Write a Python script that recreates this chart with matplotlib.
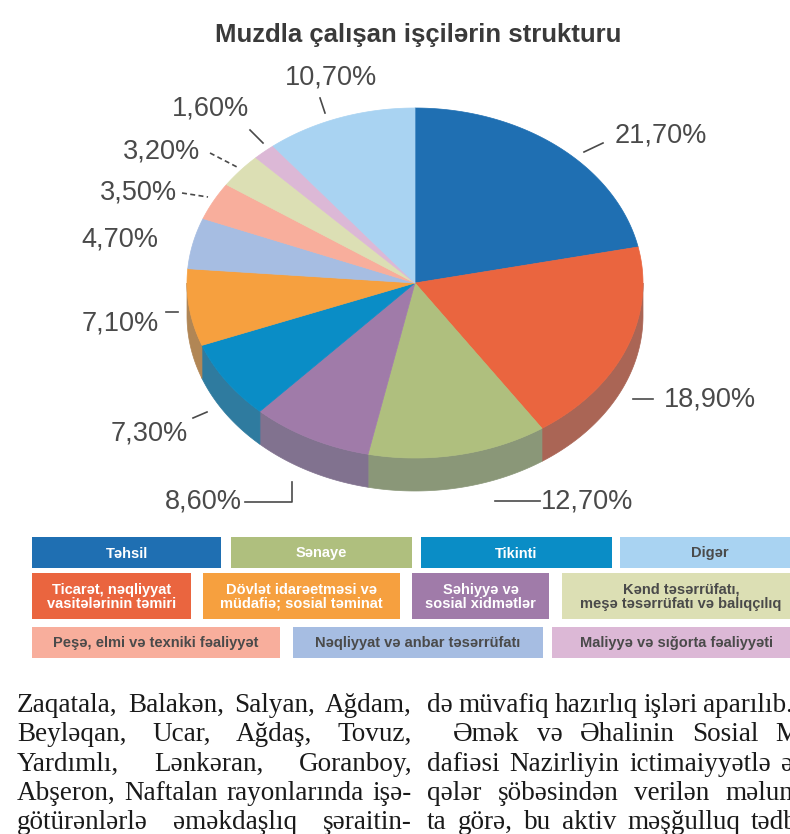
import numpy as np
import matplotlib
matplotlib.use("Agg")
import matplotlib.pyplot as plt
from matplotlib.patches import Polygon, Rectangle
from matplotlib.colors import to_rgb

# ---- data (pie order, clockwise from 12 o'clock) ----
categories = ["Təhsil", "Ticarət, nəqliyyat\nvasitələrinin təmiri", "Sənaye",
              "Səhiyyə və\nsosial xidmətlər", "Tikinti",
              "Dövlət idarəetməsi və\nmüdafiə; sosial təminat",
              "Nəqliyyat və anbar təsərrüfatı", "Peşə, elmi və texniki fəaliyyət",
              "Kənd təsərrüfatı,\nmeşə təsərrüfatı və balıqçılıq",
              "Maliyyə və sığorta fəaliyyəti", "Digər"]
shares = [21.7, 18.9, 12.7, 8.6, 7.3, 7.1, 4.7, 3.5, 3.2, 1.6, 10.7]
colors = ["#1f6fb2", "#ea653f", "#afbf7e", "#a07ba9", "#0a8dc6", "#f6a03f",
          "#a6bde2", "#f8ae9c", "#dcdfb4", "#dcb8d6", "#a9d3f2"]
title = "Muzdla çalışan işçilərin strukturu"

left_col = ["Zaqatala, Balakən, Salyan, Ağdam,",
            "Beyləqan, Ucar, Ağdaş, Tovuz,",
            "Yardımlı, Lənkəran, Goranboy,",
            "Abşeron, Naftalan rayonlarında işə-",
            "götürənlərlə əməkdaşlıq şəraitin-"]
right_col = ["də müvafiq hazırlıq işləri aparılıb.",
             "Əmək və Əhalinin Sosial Mü-",
             "dafiəsi Nazirliyin ictimaiyyətlə əla-",
             "qələr şöbəsindən verilən məluma-",
             "ta görə, bu aktiv məşğulluq tədbiri"]

# ---- layout (pixels) ----
CX, CY, RX, RY, DEPTH = 415, 283, 228, 175, 33
label_pos = [(661, 135), (710, 399), (587, 501), (203, 501), (149, 433),
             (120, 323), (120, 239), (138, 192), (162, 151), (210, 108), (331, 77)]
leaders = [([584, 603], [152, 143], "-"), ([633, 653], [399, 399], "-"),
           ([495, 540], [501, 501], "-"), ([245, 292, 292], [502, 502, 482], "-"),
           ([193, 207], [418, 412], "-"), ([166, 178], [312, 312], "-"),
           None, ([182, 208], [193, 197], "--"), ([210, 237], [153, 167], "--"),
           ([250, 263], [130, 143], "-"), ([320, 325], [98, 113], "-")]
# legend boxes: (category index, x0, y0, x1, y1)
legend_boxes = [(0, 32, 537, 221, 568), (2, 231, 537, 412, 568), (4, 421, 537, 612, 568),
                (10, 620, 537, 800, 568),
                (1, 32, 573, 191, 619), (5, 203, 573, 400, 619), (3, 412, 573, 549, 619),
                (8, 562, 573, 800, 619),
                (7, 32, 627, 280, 658), (6, 293, 627, 543, 658), (9, 552, 627, 800, 658)]
dark_text = {6, 7, 8, 9, 10}


def shade(c):
    rgb = np.array(to_rgb(c))
    return tuple(0.55 * rgb + 0.45 * np.array([0.36, 0.40, 0.44]))


fig = plt.figure(figsize=(7.9, 8.34), dpi=100)
ax = fig.add_axes([0, 0, 1, 1])
ax.set_xlim(0, 790); ax.set_ylim(834, 0); ax.axis("off")

ax.text(418, 35, title, ha="center", va="center", fontsize=18.5, fontweight="bold",
        color="#3a3a3a", family="Liberation Sans")

# ---- 3D pie ----
def rim(t):
    return CX + RX * np.sin(t), CY - RY * np.cos(t)

cum = np.concatenate([[0], np.cumsum(shares)]) / sum(shares) * 2 * np.pi
for i in range(len(shares)):
    t0, t1 = max(cum[i], np.pi / 2), min(cum[i + 1], 3 * np.pi / 2)
    if t1 <= t0:
        continue
    t = np.linspace(t0, t1, 80)
    x, y = rim(t)
    verts = list(zip(x, y)) + list(zip(x[::-1], y[::-1] + DEPTH))
    sc = shade(colors[i])
    ax.add_patch(Polygon(verts, closed=True, fc=sc, ec=sc, lw=0.5))
for i in range(len(shares)):
    t = np.linspace(cum[i], cum[i + 1], 120)
    x, y = rim(t)
    verts = [(CX, CY)] + list(zip(x, y))
    ax.add_patch(Polygon(verts, closed=True, fc=colors[i], ec=colors[i], lw=0.5))

for i, v in enumerate(shares):
    lx, ly = label_pos[i]
    ax.text(lx, ly, f"{v:.2f}%".replace(".", ","), ha="center", va="center",
            fontsize=19.5, color="#4a4a4a", family="Liberation Sans")
    if leaders[i] is not None:
        xs, ys, ls = leaders[i]
        ax.plot(xs, ys, ls, color="#4a4a4a", lw=1.2, dashes=(3, 2) if ls == "--" else (None, None))

# ---- legend ----
for idx, x0, y0, x1, y1 in legend_boxes:
    ax.add_patch(Rectangle((x0, y0), x1 - x0, y1 - y0, fc=colors[idx], ec="none"))
    tc = "#4a4a4a" if idx in dark_text else "white"
    ax.text((x0 + x1) / 2, (y0 + y1) / 2 + 1, categories[idx], ha="center", va="center",
            fontsize=10.5, fontweight="bold", color=tc, family="Liberation Sans",
            linespacing=1.0)

# ---- body text, justified ----
renderer = fig.canvas.get_renderer()


def text_line(x0, y, line, width, justify=True):
    words = line.split(" ")
    objs = [ax.text(0, y, w, fontsize=19.5, family="Liberation Serif", color="#1a1a1a",
                    va="baseline", ha="left") for w in words]
    ws = [o.get_window_extent(renderer).width for o in objs]
    sp = objs[0].get_window_extent(renderer).height * 0.22
    gap = (width - sum(ws)) / (len(words) - 1) if justify and len(words) > 1 else sp
    x = x0
    for o, w in zip(objs, ws):
        o.set_x(x)
        x += w + gap


baselines = [712, 741, 771, 800, 829]
for k, line in enumerate(left_col):
    text_line(17, baselines[k], line, 395)
for k, line in enumerate(right_col):
    if k == 0:
        text_line(427, baselines[k], line, 395, justify=False)
    elif k == 1:
        text_line(453, baselines[k], line, 369)
    else:
        text_line(427, baselines[k], line, 395)

fig.savefig("out.png", dpi=100)
